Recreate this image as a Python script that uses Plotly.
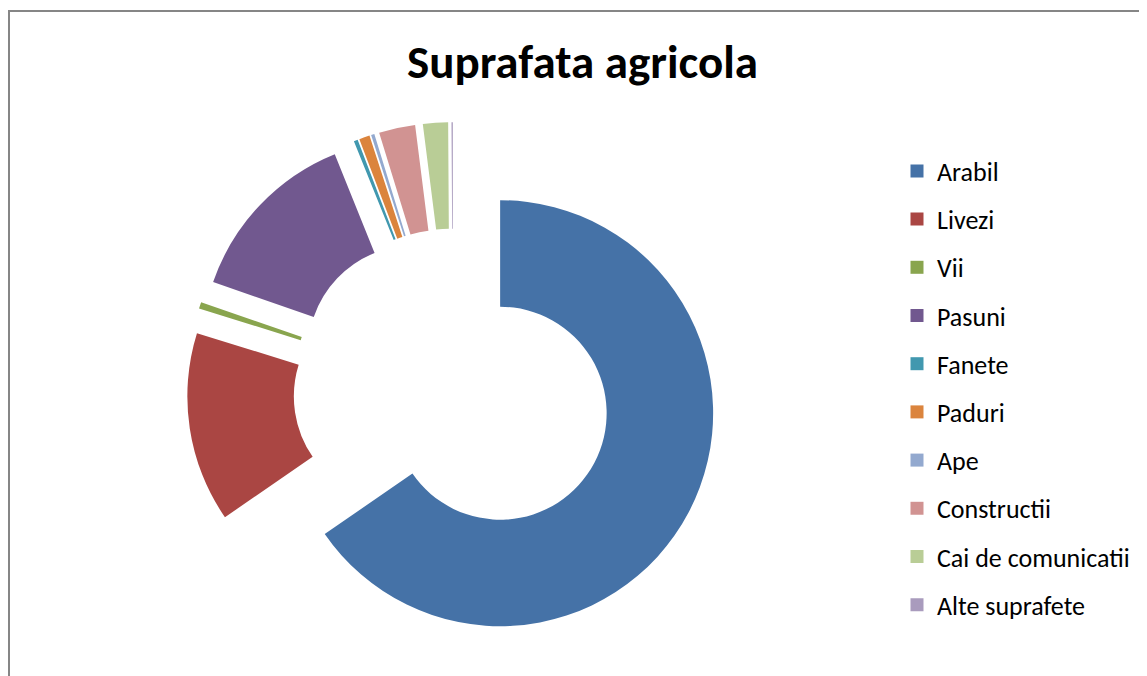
import plotly.graph_objects as go

# ---- data ----
labels = ["Arabil", "Livezi", "Vii", "Pasuni", "Fanete", "Paduri", "Ape",
          "Constructii", "Cai de comunicatii", "Alte suprafete"]
values = [65.4, 14.4, 0.5, 13.6, 0.3, 0.8, 0.25, 2.75, 1.9, 0.1]
colors = ["#4572A7", "#AA4643", "#89A54E", "#71588F", "#4198AF",
          "#DB843D", "#93A9CF", "#D19392", "#B9CD96", "#A99BBD"]
title_text = "Suprafata agricola"

W, H = 1147, 676
OFF = 8  # page body margin
FONT = "Carlito, Calibri, Lato, sans-serif"

# pie geometry (pixels, page coordinates minus body margin)
cx, cy, r, pull = 453 - OFF, 388.4 - OFF, 213, 0.25
half = r * (1 + pull)

fig = go.Figure()
fig.add_trace(go.Pie(
    labels=labels, values=values,
    marker=dict(colors=colors, line=dict(width=0)),
    hole=0.5, pull=[pull] * len(values),
    sort=False, direction="clockwise", rotation=0,
    textinfo="none", hoverinfo="label+percent",
    showlegend=False,
    domain=dict(x=[(cx - half) / W, (cx + half) / W],
                y=[1 - (cy + half) / H, 1 - (cy - half) / H]),
))

# legend entries (one per category)
for lab, col in zip(labels, colors):
    fig.add_trace(go.Scatter(
        x=[None], y=[None], mode="markers", name=lab, legendgroup=lab,
        marker=dict(symbol="square", size=13, color=col),
        showlegend=True, hoverinfo="skip",
    ))

fig.update_layout(
    width=W, height=H,
    margin=dict(l=0, r=0, t=0, b=0),
    paper_bgcolor="white", plot_bgcolor="white",
    title=dict(text="<b>" + title_text + "</b>", x=(582.5 - OFF) / W, xanchor="center",
               xref="paper", yref="container", y=1 - (62 - OFF) / H, yanchor="middle",
               font=dict(family=FONT, size=47, color="#000000")),
    xaxis=dict(visible=False), yaxis=dict(visible=False),
    legend=dict(x=(917 - OFF - 20) / W, xanchor="left", y=1 - (147.5 - OFF) / H, yanchor="top",
                font=dict(family=FONT, size=26, color="#000000"),
                tracegroupgap=11.4, bgcolor="rgba(0,0,0,0)", borderwidth=0,
                itemclick=False, itemdoubleclick=False),
    shapes=[dict(type="rect", xref="paper", yref="paper",
                 x0=1 / W, x1=1.02, y0=-0.05, y1=1 - 3 / H,
                 line=dict(color="#868686", width=2), fillcolor="rgba(0,0,0,0)",
                 layer="below")],
)

fig.write_html("out.html")
